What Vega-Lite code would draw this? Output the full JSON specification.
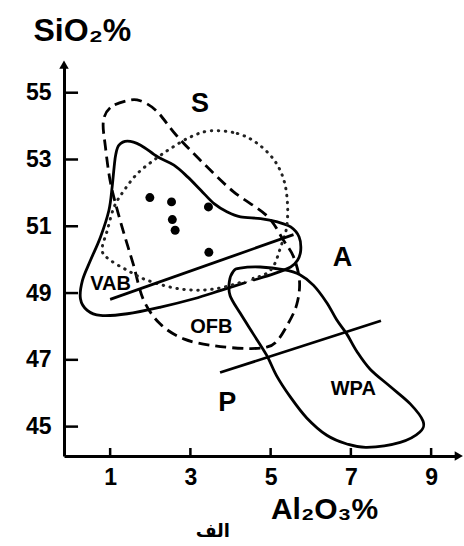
{
  "$schema": "https://vega.github.io/schema/vega-lite/v6.json",
  "width": 392,
  "height": 390,
  "autosize": {"type": "none"},
  "padding": {"left": 64, "top": 66, "right": 8, "bottom": 90},
  "background": "white",
  "config": {"view": {"stroke": null}, "font": "Liberation Sans"},
  "datasets": {
    "outlines": [
      {"shape": "VAB", "i": 1, "x": 1.22, "y": 53.43},
      {"shape": "VAB", "i": 2, "x": 1.43, "y": 53.55},
      {"shape": "VAB", "i": 3, "x": 1.76, "y": 53.43},
      {"shape": "VAB", "i": 4, "x": 2.18, "y": 53.08},
      {"shape": "VAB", "i": 5, "x": 2.59, "y": 52.83},
      {"shape": "VAB", "i": 6, "x": 2.93, "y": 52.48},
      {"shape": "VAB", "i": 7, "x": 3.26, "y": 52.08},
      {"shape": "VAB", "i": 8, "x": 3.59, "y": 51.68},
      {"shape": "VAB", "i": 9, "x": 3.92, "y": 51.43},
      {"shape": "VAB", "i": 10, "x": 4.25, "y": 51.28},
      {"shape": "VAB", "i": 11, "x": 4.75, "y": 51.23},
      {"shape": "VAB", "i": 12, "x": 5.17, "y": 51.13},
      {"shape": "VAB", "i": 13, "x": 5.5, "y": 50.98},
      {"shape": "VAB", "i": 14, "x": 5.71, "y": 50.68},
      {"shape": "VAB", "i": 15, "x": 5.75, "y": 50.28},
      {"shape": "VAB", "i": 16, "x": 5.67, "y": 49.98},
      {"shape": "VAB", "i": 17, "x": 5.5, "y": 49.78},
      {"shape": "VAB", "i": 18, "x": 5.09, "y": 49.58},
      {"shape": "VAB", "i": 19, "x": 4.42, "y": 49.33},
      {"shape": "VAB", "i": 20, "x": 3.76, "y": 49.08},
      {"shape": "VAB", "i": 21, "x": 3.09, "y": 48.83},
      {"shape": "VAB", "i": 22, "x": 2.26, "y": 48.58},
      {"shape": "VAB", "i": 23, "x": 1.43, "y": 48.38},
      {"shape": "VAB", "i": 24, "x": 0.76, "y": 48.33},
      {"shape": "VAB", "i": 25, "x": 0.43, "y": 48.48},
      {"shape": "VAB", "i": 26, "x": 0.26, "y": 48.83},
      {"shape": "VAB", "i": 27, "x": 0.31, "y": 49.38},
      {"shape": "VAB", "i": 28, "x": 0.51, "y": 49.98},
      {"shape": "VAB", "i": 29, "x": 0.76, "y": 50.68},
      {"shape": "VAB", "i": 30, "x": 0.97, "y": 51.48},
      {"shape": "VAB", "i": 31, "x": 1.05, "y": 52.18},
      {"shape": "VAB", "i": 32, "x": 1.1, "y": 52.78},
      {"shape": "VAB", "i": 33, "x": 1.14, "y": 53.15},
      {"shape": "WPA", "i": 1, "x": 4.07, "y": 49.65},
      {"shape": "WPA", "i": 2, "x": 4.24, "y": 49.75},
      {"shape": "WPA", "i": 3, "x": 4.74, "y": 49.78},
      {"shape": "WPA", "i": 4, "x": 5.32, "y": 49.7},
      {"shape": "WPA", "i": 5, "x": 5.73, "y": 49.55},
      {"shape": "WPA", "i": 6, "x": 6.07, "y": 49.23},
      {"shape": "WPA", "i": 7, "x": 6.4, "y": 48.71},
      {"shape": "WPA", "i": 8, "x": 6.65, "y": 48.19},
      {"shape": "WPA", "i": 9, "x": 6.9, "y": 47.77},
      {"shape": "WPA", "i": 10, "x": 7.15, "y": 47.25},
      {"shape": "WPA", "i": 11, "x": 7.48, "y": 46.72},
      {"shape": "WPA", "i": 12, "x": 7.98, "y": 46.2},
      {"shape": "WPA", "i": 13, "x": 8.48, "y": 45.68},
      {"shape": "WPA", "i": 14, "x": 8.8, "y": 45.16},
      {"shape": "WPA", "i": 15, "x": 8.72, "y": 44.84},
      {"shape": "WPA", "i": 16, "x": 8.23, "y": 44.53},
      {"shape": "WPA", "i": 17, "x": 7.4, "y": 44.38},
      {"shape": "WPA", "i": 18, "x": 6.9, "y": 44.48},
      {"shape": "WPA", "i": 19, "x": 6.4, "y": 44.74},
      {"shape": "WPA", "i": 20, "x": 5.9, "y": 45.26},
      {"shape": "WPA", "i": 21, "x": 5.49, "y": 45.89},
      {"shape": "WPA", "i": 22, "x": 5.15, "y": 46.52},
      {"shape": "WPA", "i": 23, "x": 4.9, "y": 47.14},
      {"shape": "WPA", "i": 24, "x": 4.57, "y": 47.77},
      {"shape": "WPA", "i": 25, "x": 4.24, "y": 48.4},
      {"shape": "WPA", "i": 26, "x": 3.99, "y": 48.92},
      {"shape": "WPA", "i": 27, "x": 3.97, "y": 49.34},
      {"shape": "S", "i": 1, "x": 1.42, "y": 54.76},
      {"shape": "S", "i": 2, "x": 1.0, "y": 54.55},
      {"shape": "S", "i": 3, "x": 0.83, "y": 54.13},
      {"shape": "S", "i": 4, "x": 0.88, "y": 53.4},
      {"shape": "S", "i": 5, "x": 1.0, "y": 52.36},
      {"shape": "S", "i": 6, "x": 1.17, "y": 51.52},
      {"shape": "S", "i": 7, "x": 1.37, "y": 50.68},
      {"shape": "S", "i": 8, "x": 1.58, "y": 49.85},
      {"shape": "S", "i": 9, "x": 1.83, "y": 48.8},
      {"shape": "S", "i": 10, "x": 2.25, "y": 48.07},
      {"shape": "S", "i": 11, "x": 2.85, "y": 47.62},
      {"shape": "S", "i": 12, "x": 3.6, "y": 47.42},
      {"shape": "S", "i": 13, "x": 4.4, "y": 47.34},
      {"shape": "S", "i": 14, "x": 4.9, "y": 47.38},
      {"shape": "S", "i": 15, "x": 5.15, "y": 47.55},
      {"shape": "S", "i": 16, "x": 5.42, "y": 48.05},
      {"shape": "S", "i": 17, "x": 5.65, "y": 48.65},
      {"shape": "S", "i": 18, "x": 5.72, "y": 49.35},
      {"shape": "S", "i": 19, "x": 5.58, "y": 50.06},
      {"shape": "S", "i": 20, "x": 5.32, "y": 50.58},
      {"shape": "S", "i": 21, "x": 4.91, "y": 51.31},
      {"shape": "S", "i": 22, "x": 4.07, "y": 52.04},
      {"shape": "S", "i": 23, "x": 3.33, "y": 52.88},
      {"shape": "S", "i": 24, "x": 2.66, "y": 53.71},
      {"shape": "S", "i": 25, "x": 2.16, "y": 54.45},
      {"shape": "S", "i": 26, "x": 1.75, "y": 54.76},
      {"shape": "OFB", "i": 1, "x": 3.51, "y": 53.86},
      {"shape": "OFB", "i": 2, "x": 4.17, "y": 53.78},
      {"shape": "OFB", "i": 3, "x": 4.67, "y": 53.48},
      {"shape": "OFB", "i": 4, "x": 5.09, "y": 52.98},
      {"shape": "OFB", "i": 5, "x": 5.33, "y": 52.38},
      {"shape": "OFB", "i": 6, "x": 5.42, "y": 51.68},
      {"shape": "OFB", "i": 7, "x": 5.4, "y": 50.98},
      {"shape": "OFB", "i": 8, "x": 5.27, "y": 50.45},
      {"shape": "OFB", "i": 9, "x": 5.0, "y": 49.69},
      {"shape": "OFB", "i": 10, "x": 4.43, "y": 49.39},
      {"shape": "OFB", "i": 11, "x": 3.58, "y": 49.12},
      {"shape": "OFB", "i": 12, "x": 2.76, "y": 49.12},
      {"shape": "OFB", "i": 13, "x": 1.93, "y": 49.38},
      {"shape": "OFB", "i": 14, "x": 1.43, "y": 49.68},
      {"shape": "OFB", "i": 15, "x": 1.01, "y": 49.98},
      {"shape": "OFB", "i": 16, "x": 0.8, "y": 50.28},
      {"shape": "OFB", "i": 17, "x": 0.93, "y": 50.88},
      {"shape": "OFB", "i": 18, "x": 1.1, "y": 51.58},
      {"shape": "OFB", "i": 19, "x": 1.35, "y": 52.08},
      {"shape": "OFB", "i": 20, "x": 1.68, "y": 52.58},
      {"shape": "OFB", "i": 21, "x": 2.09, "y": 52.98},
      {"shape": "OFB", "i": 22, "x": 2.51, "y": 53.33},
      {"shape": "OFB", "i": 23, "x": 3.01, "y": 53.68}
    ],
    "dividers": [
      {"line": "upper", "x": 1.0, "y": 48.81},
      {"line": "upper", "x": 5.57, "y": 50.75},
      {"line": "lower", "x": 3.74, "y": 46.62},
      {"line": "lower", "x": 7.75, "y": 48.17}
    ],
    "samples": [
      {"x": 1.99, "y": 51.86, "kind": "black"},
      {"x": 2.53, "y": 51.73, "kind": "black"},
      {"x": 3.45, "y": 51.58, "kind": "black"},
      {"x": 2.55, "y": 51.2, "kind": "black"},
      {"x": 2.62, "y": 50.88, "kind": "black"},
      {"x": 3.46, "y": 50.22, "kind": "black"},
      {"x": 4.42, "y": 49.47, "kind": "white"},
      {"x": 4.5, "y": 49.25, "kind": "white"}
    ],
    "labels": [
      {"x": 3.24, "y": 54.66, "text": "S", "big": true},
      {"x": 6.79, "y": 50.04, "text": "A", "big": true},
      {"x": 3.92, "y": 45.7, "text": "P", "big": true},
      {"x": 1.01, "y": 49.26, "text": "VAB", "big": false},
      {"x": 3.52, "y": 47.99, "text": "OFB", "big": false},
      {"x": 7.06, "y": 46.12, "text": "WPA", "big": false}
    ],
    "arrows": [
      {"x": -0.15, "y": 55.84, "dir": "triangle-up"},
      {"x": 9.69, "y": 44.12, "dir": "triangle-right"}
    ],
    "yticks": [
      {"v": 45, "from": -0.15, "to": 0.2},
      {"v": 47, "from": -0.15, "to": 0.2},
      {"v": 49, "from": -0.15, "to": 0.2},
      {"v": 51, "from": -0.15, "to": 0.2},
      {"v": 53, "from": -0.15, "to": 0.2},
      {"v": 55, "from": -0.15, "to": 0.2}
    ],
    "xticks": [
      {"v": 1, "from": 44.12, "to": 44.36},
      {"v": 3, "from": 44.12, "to": 44.36},
      {"v": 5, "from": 44.12, "to": 44.36},
      {"v": 7, "from": 44.12, "to": 44.36},
      {"v": 9, "from": 44.12, "to": 44.36}
    ],
    "caption": [
      {"x": 3.56, "y": 41.7, "text": "الف"}
    ]
  },
  "layer": [
    {
      "data": {"name": "outlines"},
      "transform": [{"filter": "datum.shape == 'VAB' || datum.shape == 'WPA'"}],
      "mark": {"type": "line", "interpolate": "cardinal-closed", "stroke": "black", "strokeWidth": 2.8},
      "encoding": {
        "x": {
          "field": "x", "type": "quantitative",
          "scale": {"domain": [-0.15, 9.62], "nice": false, "zero": false},
          "axis": {
            "values": [1, 3, 5, 7, 9],
            "domainColor": "black", "domainWidth": 3,
            "ticks": false,
            "labelFont": "Liberation Sans", "labelFontWeight": "bold", "labelFontSize": 23,
            "labelColor": "black", "labelPadding": 10, "grid": false,
            "title": "Al₂O₃%", "titleFont": "Liberation Sans", "titleFontWeight": "bold",
            "titleFontSize": 30, "titleColor": "black",
            "titleX": 260, "titleY": 62, "titleAlign": "center", "titleBaseline": "alphabetic"
          }
        },
        "y": {
          "field": "y", "type": "quantitative",
          "scale": {"domain": [44.12, 55.8], "nice": false, "zero": false},
          "axis": {
            "values": [45, 47, 49, 51, 53, 55],
            "domainColor": "black", "domainWidth": 3,
            "ticks": false,
            "labelFont": "Liberation Sans", "labelFontWeight": "bold", "labelFontSize": 23,
            "labelColor": "black", "labelPadding": 13, "grid": false,
            "title": "SiO₂%", "titleFont": "Liberation Sans", "titleFontWeight": "bold",
            "titleFontSize": 32, "titleColor": "black", "titleAngle": 0,
            "titleX": -31, "titleY": -26, "titleAlign": "left", "titleBaseline": "alphabetic"
          }
        },
        "detail": {"field": "shape"},
        "order": {"field": "i", "type": "quantitative"}
      }
    },
    {
      "data": {"name": "outlines"},
      "transform": [{"filter": "datum.shape == 'S'"}],
      "mark": {"type": "line", "interpolate": "cardinal-closed", "stroke": "black", "strokeWidth": 2.8, "strokeDash": [11, 6]},
      "encoding": {
        "x": {"field": "x", "type": "quantitative"},
        "y": {"field": "y", "type": "quantitative"},
        "order": {"field": "i", "type": "quantitative"}
      }
    },
    {
      "data": {"name": "outlines"},
      "transform": [{"filter": "datum.shape == 'OFB'"}],
      "mark": {"type": "line", "interpolate": "cardinal-closed", "stroke": "#222222", "strokeWidth": 3, "strokeDash": [0.5, 6.5], "strokeCap": "round"},
      "encoding": {
        "x": {"field": "x", "type": "quantitative"},
        "y": {"field": "y", "type": "quantitative"},
        "order": {"field": "i", "type": "quantitative"}
      }
    },
    {
      "data": {"name": "dividers"},
      "mark": {"type": "line", "stroke": "black", "strokeWidth": 2.8},
      "encoding": {
        "x": {"field": "x", "type": "quantitative"},
        "y": {"field": "y", "type": "quantitative"},
        "detail": {"field": "line"}
      }
    },
    {
      "data": {"name": "yticks"},
      "mark": {"type": "rule", "stroke": "black", "strokeWidth": 2.5},
      "encoding": {
        "x": {"field": "from", "type": "quantitative"},
        "x2": {"field": "to"},
        "y": {"field": "v", "type": "quantitative"}
      }
    },
    {
      "data": {"name": "xticks"},
      "mark": {"type": "rule", "stroke": "black", "strokeWidth": 2.5},
      "encoding": {
        "x": {"field": "v", "type": "quantitative"},
        "y": {"field": "from", "type": "quantitative"},
        "y2": {"field": "to"}
      }
    },
    {
      "data": {"name": "samples"},
      "mark": {"type": "point", "shape": "circle", "filled": true, "size": 80, "opacity": 1},
      "encoding": {
        "x": {"field": "x", "type": "quantitative"},
        "y": {"field": "y", "type": "quantitative"},
        "color": {"field": "kind", "type": "nominal", "scale": {"domain": ["black", "white"], "range": ["black", "white"]}, "legend": null}
      }
    },
    {
      "data": {"name": "labels"},
      "mark": {"type": "text", "font": "Liberation Sans", "fontWeight": "bold", "color": "black", "align": "center", "baseline": "middle"},
      "encoding": {
        "x": {"field": "x", "type": "quantitative"},
        "y": {"field": "y", "type": "quantitative"},
        "text": {"field": "text"},
        "size": {"field": "big", "type": "nominal", "scale": {"domain": [true, false], "range": [27, 20]}, "legend": null}
      }
    },
    {
      "data": {"name": "arrows"},
      "mark": {"type": "point", "filled": true, "color": "black", "size": 90, "opacity": 1},
      "encoding": {
        "x": {"field": "x", "type": "quantitative"},
        "y": {"field": "y", "type": "quantitative"},
        "shape": {"field": "dir", "type": "nominal", "scale": null}
      }
    },
    {
      "data": {"name": "caption"},
      "mark": {"type": "text", "font": "DejaVu Sans", "fontWeight": "bold", "fontSize": 18, "color": "black", "align": "center", "baseline": "alphabetic"},
      "encoding": {
        "x": {"field": "x", "type": "quantitative"},
        "y": {"field": "y", "type": "quantitative"},
        "text": {"field": "text"}
      }
    }
  ]
}
